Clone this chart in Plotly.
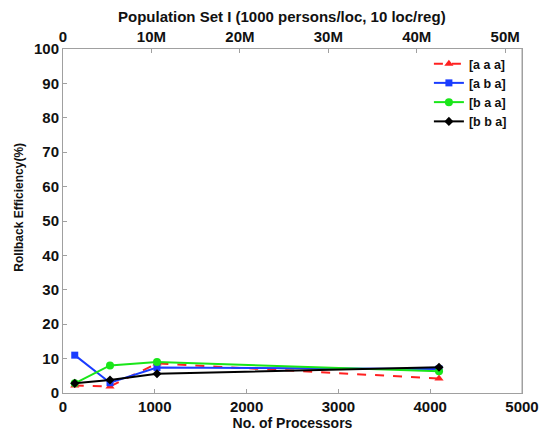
import plotly.graph_objects as go

processors = [128, 512, 1024, 4096]
series_names = ["[a a a]", "[a b a]", "[b a a]", "[b b a]"]
aaa = [2.2, 1.9, 8.6, 4.2]
aba = [11.0, 3.0, 7.4, 7.0]
baa = [2.8, 8.0, 9.0, 6.3]
bba = [2.8, 3.8, 5.6, 7.5]
x_ticks = [0, 1000, 2000, 3000, 4000, 5000]
y_ticks = [0, 10, 20, 30, 40, 50, 60, 70, 80, 90, 100]
top_ticks = [0, 10e6, 20e6, 30e6, 40e6, 50e6]
top_labels = ["0", "10M", "20M", "30M", "40M", "50M"]

FONT = "Liberation Sans, Arial, sans-serif"

styles = [
    dict(color="#ff2020", dash="dash", symbol="triangle-up", size=8),
    dict(color="#1a3cff", dash="solid", symbol="square", size=7),
    dict(color="#19e619", dash="solid", symbol="circle", size=8),
    dict(color="#000000", dash="solid", symbol="diamond", size=7),
]

fig = go.Figure()
for name, vals, st in zip(series_names, [aaa, aba, baa, bba], styles):
    fig.add_trace(go.Scatter(
        x=processors, y=vals, name=name, mode="lines+markers",
        line=dict(color=st["color"], width=2, dash=st["dash"]),
        marker=dict(color=st["color"], symbol=st["symbol"], size=st["size"]),
    ))

# invisible trace to anchor top axis
fig.add_trace(go.Scatter(x=[0], y=[0], xaxis="x2", mode="markers",
                         marker=dict(opacity=0), showlegend=False, hoverinfo="skip"))

axis_common = dict(
    showgrid=False, zeroline=False, showline=True, linecolor="#a0a0a0", linewidth=1,
    ticks="inside", ticklen=4, tickcolor="#a0a0a0", automargin=False,
    tickfont=dict(family=FONT, size=15, color="#111111", weight="bold"),
)

fig.update_layout(
    width=542, height=432,
    margin=dict(l=63, r=20, t=49, b=39),
    paper_bgcolor="white", plot_bgcolor="white",
    title=dict(text="<b>Population Set I (1000 persons/loc, 10 loc/reg)</b>",
               x=0.52, xanchor="center", y=0.962, yanchor="middle",
               font=dict(family=FONT, size=15, color="#111111")),
    xaxis=dict(range=[0, 5000], tickvals=x_ticks, mirror=False,
               title=dict(text="<b>No. of Processors</b>", standoff=0,
                          font=dict(family=FONT, size=14, color="#111111")),
               **axis_common),
    xaxis2=dict(range=[0, 51.9e6], tickvals=top_ticks, ticktext=top_labels,
                overlaying="x", side="top", **axis_common),
    yaxis=dict(range=[0, 100], tickvals=y_ticks, mirror=True, **axis_common),
    legend=dict(x=0.978, xanchor="right", y=1.0, yanchor="top",
                bgcolor="rgba(255,255,255,0)", borderwidth=0,
                font=dict(family=FONT, size=12.5, color="#111111", weight="bold"),
                tracegroupgap=0, itemwidth=30),
    showlegend=True,
)

fig.add_annotation(text="<b>Rollback Efficiency(%)</b>", textangle=-90,
                   xref="paper", yref="paper", x=-0.095, y=0.54,
                   xanchor="center", yanchor="middle", showarrow=False,
                   font=dict(family=FONT, size=12, color="#111111"))

# right border line
fig.add_shape(type="line", xref="paper", yref="paper", x0=1, x1=1, y0=0, y1=1,
              line=dict(color="#a0a0a0", width=1))

fig.write_html("out.html")
